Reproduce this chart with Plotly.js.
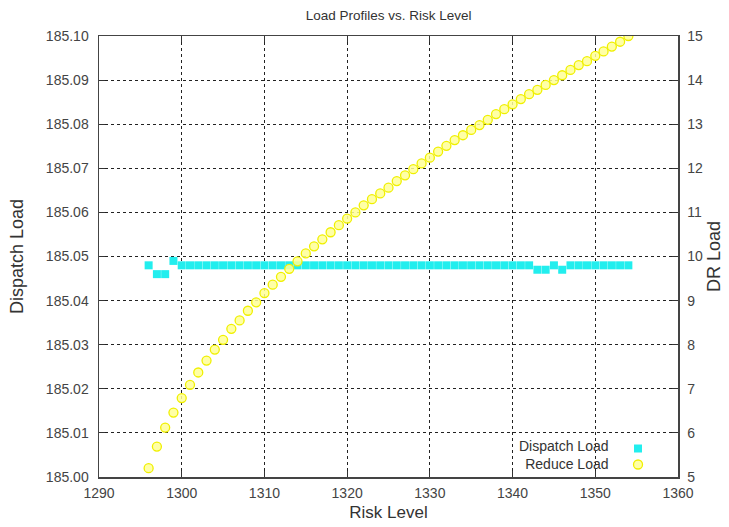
<!DOCTYPE html>
<html>
<head>
<meta charset="utf-8">
<script src="https://cdn.plot.ly/plotly-3.0.1.min.js"></script>
<style>html,body{margin:0;padding:0;background:#fff;}#chart{width:729px;height:527px;}</style>
</head>
<body>
<div id="chart"></div>
<script>
// Risk levels (x)
const riskLevel = [1296,1297,1298,1299,1300,1301,1302,1303,1304,1305,1306,1307,1308,1309,1310,
  1311,1312,1313,1314,1315,1316,1317,1318,1319,1320,1321,1322,1323,1324,1325,1326,1327,1328,1329,1330,
  1331,1332,1333,1334,1335,1336,1337,1338,1339,1340,1341,1342,1343,1344,1345,1346,1347,1348,1349,1350,
  1351,1352,1353,1354];

// Dispatch Load (left axis)
const dispatchLoad = [185.048,185.046,185.046,185.049,185.048,185.048,185.048,185.048,185.048,185.048,
  185.048,185.048,185.048,185.048,185.048,185.048,185.048,185.048,185.048,185.048,185.048,185.048,185.048,
  185.048,185.048,185.048,185.048,185.048,185.048,185.048,185.048,185.048,185.048,185.048,185.048,185.048,
  185.048,185.048,185.048,185.048,185.048,185.048,185.048,185.048,185.048,185.048,185.048,185.047,185.047,
  185.048,185.047,185.048,185.048,185.048,185.048,185.048,185.048,185.048,185.048];

// Reduce Load (right axis, DR Load)
const reduceLoad = [5.20,5.69,6.12,6.46,6.79,7.09,7.37,7.64,7.89,8.11,8.36,8.55,8.77,8.96,9.17,
  9.36,9.54,9.72,9.89,10.07,10.23,10.39,10.55,10.71,10.86,11.00,11.16,11.30,11.43,11.56,11.71,11.84,11.98,12.11,12.24,
  12.38,12.51,12.64,12.75,12.87,12.98,13.10,13.23,13.34,13.45,13.57,13.68,13.78,13.89,14.00,14.11,14.23,14.34,14.43,14.55,
  14.65,14.76,14.87,15.00];

const seriesNames = ["Dispatch Load", "Reduce Load"];
const chartTitle = "Load Profiles vs. Risk Level";
const xTitle = "Risk Level";
const yTitle = "Dispatch Load";
const y2Title = "DR Load";

const FONT = "Liberation Sans, Arial, sans-serif";

const traces = [
  {
    x: riskLevel, y: dispatchLoad, type: "scatter", mode: "markers",
    name: " ", legend: "legend", hovertemplate: seriesNames[0] + ": %{y}<extra></extra>",
    marker: {symbol: "square", size: 8, color: "#22eeee", line: {width: 0}},
    yaxis: "y"
  },
  {
    x: riskLevel, y: reduceLoad, type: "scatter", mode: "markers",
    name: " ", legend: "legend2", hovertemplate: seriesNames[1] + ": %{y}<extra></extra>",
    marker: {symbol: "circle", size: 9, color: "rgba(255,255,150,0.85)", line: {width: 1.3, color: "#f0f000"}},
    yaxis: "y2"
  }
];

const gridCommon = {
  showgrid: true, gridcolor: "#222", griddash: "dot", gridwidth: 1,
  showline: true, linecolor: "#444", linewidth: 1.5,
  ticks: "inside", ticklen: 6, tickcolor: "#333", tickwidth: 1,
  zeroline: false,
  tickfont: {family: FONT, size: 14, color: "#444"}
};

const legendCommon = {
  xanchor: "left", yanchor: "top", bgcolor: "rgba(0,0,0,0)",
  font: {family: FONT, size: 10, color: "#333"}, itemwidth: 30
};

const layout = {
  width: 729, height: 527,
  paper_bgcolor: "#fff", plot_bgcolor: "#fff",
  margin: {l: 99, r: 51, t: 36, b: 50, pad: 0},
  title: {text: chartTitle, font: {family: FONT, size: 13.5, color: "#333"},
          x: 0.533, xanchor: "center", y: 0.971, yanchor: "middle"},
  showlegend: true,
  legend: Object.assign({}, legendCommon, {x: 0.8964, y: 0.0975}),
  legend2: Object.assign({}, legendCommon, {x: 0.8964, y: 0.0612}),
  xaxis: Object.assign({}, gridCommon, {
    range: [1290, 1360], dtick: 10, tick0: 1290, mirror: "ticks", ticklabelstandoff: 3,
    title: {text: xTitle, font: {family: FONT, size: 17, color: "#333"}, standoff: 6}
  }),
  yaxis: Object.assign({}, gridCommon, {
    range: [185.00, 185.10], dtick: 0.01, tick0: 185.00, tickformat: ".2f", mirror: true,
    ticklabelstandoff: 6,
    title: {text: yTitle, font: {family: FONT, size: 18, color: "#333"}, standoff: 17}
  }),
  yaxis2: {
    overlaying: "y", side: "right", range: [5, 15], dtick: 1, tick0: 5,
    showgrid: false, zeroline: false, showline: true, linecolor: "#444", linewidth: 1.5,
    ticks: "inside", ticklen: 6, tickcolor: "#333", ticklabelstandoff: 5,
    tickfont: {family: FONT, size: 14, color: "#444"},
    title: {text: y2Title, font: {family: FONT, size: 18, color: "#333"}, standoff: 5}
  },
  annotations: [
    {text: seriesNames[0] + "<br>" + seriesNames[1], xref: "paper", yref: "paper", x: 0.884, y: 0.05,
     xanchor: "right", yanchor: "middle", align: "right", showarrow: false,
     font: {family: FONT, size: 14, color: "#333"}}
  ]
};

Plotly.newPlot("chart", traces, layout, {displayModeBar: false, staticPlot: true});
</script>
</body>
</html>
